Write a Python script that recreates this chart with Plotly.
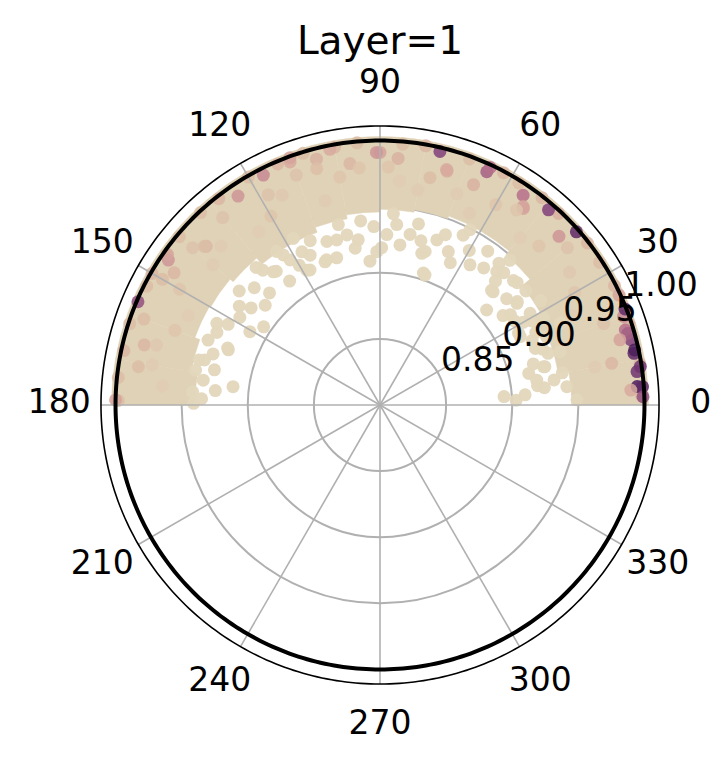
import numpy as np
import plotly.graph_objects as go

# axes
theta_ticks = [0, 30, 60, 90, 120, 150, 180, 210, 240, 270, 300, 330]
theta_label_r = 1.0425
r_ticks = [0.85, 0.90, 0.95, 1.00]
r_tick_text = ["0.85", "0.90", "0.95", "1.00"]
r_min, r_frame = 0.80, 1.011
r_range = [0.80, 1.0556]  # extra room outside the frame for the angle labels

# dense core of the cloud, one wedge per 10 degrees
band_theta = [5, 15, 25, 35, 45, 55, 65, 75, 85, 95, 105, 115, 125, 135, 145, 155, 165, 175]
band_inner = [0.945, 0.937, 0.934, 0.940, 0.948, 0.952, 0.952, 0.950, 0.948,
              0.946, 0.943, 0.939, 0.939, 0.945, 0.948, 0.949, 0.945, 0.940]
band_outer = 1.003

# loose points on the inner edge of the cloud
fringe_theta = [104.7, 97.5, 111, 106.4, 94, 117.4, 89.4, 82.9, 80, 73.6, 71.8, 66, 63.7,
                57.3, 52.9, 48.8, 63.9, 101, 117.5, 122.8, 117, 128.7, 84.7, 87.7, 91.2, 71,
                110.2, 126.1, 118.5, 146.1, 150.6, 172.9, 160, 166, 153.4, 144.9, 134.6,
                121.8, 127.8, 172, 179.5, 178, 159.5, 159.3, 169.3, 165.6,
                3.9, 2, 41.7, 45.8, 36.6, 34.7, 31.4, 13.1, 8.2, 16.5, 17.1, 5.6, 1.5, 41.7,
                46.9, 24.4, 22.3, 45, 70.9, 74.6, 27.4, 62.8, 48.1, 13.2,
                25, 28, 33, 38, 20, 10, 12, 7, 30, 36,
                92, 96, 99, 103, 108, 113, 115, 120, 124, 131, 86, 78, 76, 69, 60, 55,
                132, 137, 141, 148, 152, 156, 163, 175, 176, 168, 139, 143,
                4, 6, 9, 15, 19, 23, 26, 29, 32, 37, 40, 43, 47, 50]
fringe_r = [0.929, 0.926, 0.916, 0.916, 0.909, 0.915, 0.919, 0.922, 0.931, 0.921, 0.905, 0.927, 0.920,
            0.926, 0.930, 0.934, 0.943, 0.931, 0.942, 0.935, 0.930, 0.929, 0.937, 0.929, 0.916, 0.932,
            0.917, 0.916, 0.916, 0.906, 0.913, 0.912, 0.922, 0.941, 0.938, 0.930, 0.919,
            0.929, 0.928, 0.935, 0.941, 0.935, 0.923, 0.939, 0.942, 0.937,
            0.894, 0.903, 0.908, 0.921, 0.929, 0.920, 0.933, 0.928, 0.933, 0.942, 0.933, 0.942, 0.949, 0.939,
            0.937, 0.950, 0.936, 0.921, 0.904, 0.919, 0.918, 0.949, 0.947, 0.927,
            0.930, 0.940, 0.945, 0.940, 0.925, 0.940, 0.915, 0.920, 0.925, 0.915,
            0.935, 0.940, 0.920, 0.940, 0.930, 0.935, 0.925, 0.922, 0.940, 0.935, 0.945, 0.940, 0.928, 0.938, 0.935, 0.942,
            0.940, 0.930, 0.937, 0.925, 0.930, 0.935, 0.932, 0.925, 0.942, 0.928, 0.915, 0.922,
            0.910, 0.925, 0.920, 0.920, 0.930, 0.925, 0.918, 0.931, 0.920, 0.930, 0.925, 0.938, 0.928, 0.940]

# coloured points inside the band and along the rim
hot_theta = [4.1, 7.4, 11.5, 14.6, 17, 41.4, 49.2, 43.3, 55.7, 65.4, 76.7, 53.9, 74, 90, 20, 24.7,
             21.4, 12.2, 8.4, 4, 1.8, 16.1, 15.2, 10.2, 3.4,
             156.9, 145.6, 165.7, 171, 178.9, 137.6, 147.3,
             116.9, 124.2, 110.3, 90.8, 104.5, 101.1, 137.9, 144.7,
             85.8, 65.1, 74.2, 67, 54.2, 110, 97.1, 77.6,
             100, 120, 135, 60, 30, 160, 170, 80, 45, 110, 150, 20, 95, 130, 70,
             10, 25, 35, 50, 65, 85, 105, 115, 125, 140, 155, 165, 175,
             55, 40, 88, 140, 160, 118, 150, 105]
hot_r = [0.995, 0.996, 0.996, 0.996, 0.994, 0.998, 0.995, 0.986, 0.992, 0.994, 0.997, 0.984, 0.984, 0.991, 0.996, 0.999,
         0.999, 0.997, 0.999, 0.999, 0.999, 0.995, 0.988, 0.978, 0.990,
         0.999, 0.994, 0.984, 0.985, 1.000, 0.978, 0.985,
         0.995, 0.991, 0.996, 0.991, 0.992, 0.997, 0.979, 0.997,
         0.987, 0.998, 0.985, 0.981, 0.985, 0.999, 0.984, 0.976,
         0.975, 0.965, 0.970, 0.975, 0.970, 0.965, 0.975, 0.965, 0.970, 0.985, 0.975, 0.980, 0.980, 0.985, 0.970,
         0.965, 0.960, 0.975, 0.965, 0.960, 0.970, 0.960, 0.975, 0.960, 0.965, 0.960, 0.975, 0.965,
         0.980, 0.985, 0.980, 0.985, 0.990, 0.980, 0.990, 0.985]
hot_c = [1.0, 0.9, 0.95, 0.85, 0.7, 0.95, 0.85, 0.55, 0.7, 0.75, 0.85, 0.5, 0.45, 0.5, 0.6, 0.5,
         0.95, 1.0, 0.9, 0.95, 0.8, 0.75, 0.5, 0.35, 0.45,
         0.8, 0.55, 0.35, 0.3, 0.5, 0.35, 0.35,
         0.6, 0.55, 0.45, 0.55, 0.4, 0.45, 0.3, 0.5,
         0.4, 0.7, 0.45, 0.4, 0.5, 0.5, 0.35, 0.3,
         0.2, 0.2, 0.15, 0.2, 0.2, 0.2, 0.15, 0.15, 0.2, 0.25, 0.2, 0.25, 0.2, 0.25, 0.15,
         0.15, 0.12, 0.18, 0.12, 0.15, 0.12, 0.15, 0.18, 0.12, 0.15, 0.12, 0.18, 0.12,
         0.22, 0.25, 0.22, 0.25, 0.3, 0.25, 0.3, 0.28]

rim_theta = [2, 9, 18, 27, 33, 38, 47, 52, 58, 62, 70, 80, 85, 95, 100, 107, 113, 120, 128,
             133, 140, 150, 153, 162, 168, 174, 179]
rim_r = [0.998, 0.999, 0.998, 0.999, 0.998, 0.999, 0.998, 0.999, 0.998, 0.999, 0.998, 0.999, 0.998,
         0.999, 0.998, 0.999, 0.998, 0.999, 0.998, 0.999, 0.998, 0.999, 0.998, 0.999, 0.998, 0.999, 0.998]
rim_c = [0.4, 0.35, 0.4, 0.35, 0.3, 0.35, 0.4, 0.35, 0.3, 0.35, 0.3, 0.35, 0.3,
         0.3, 0.35, 0.3, 0.35, 0.3, 0.35, 0.3, 0.3, 0.35, 0.3, 0.3, 0.35, 0.3, 0.3]

cscale = [[0.0, "#e3d7bc"], [0.3, "#dbbea6"], [0.5, "#d5a39b"],
          [0.7, "#b5708a"], [0.85, "#80407a"], [1.0, "#4b1d5c"]]
font = "DejaVu Sans"
grid = "#b0b0b0"

fig = go.Figure()

fig.add_trace(go.Barpolar(
    theta=band_theta,
    base=band_inner,
    r=[band_outer - b for b in band_inner],
    width=[10] * len(band_theta),
    marker=dict(color="#e0d2b6", line=dict(color="#e0d2b6", width=0.5)),
    hoverinfo="skip",
))

fig.add_trace(go.Scatterpolar(
    theta=fringe_theta, r=fringe_r, mode="markers",
    marker=dict(size=13, color="#e3d7bc", opacity=0.95),
    hoverinfo="skip",
))

fig.add_trace(go.Scatterpolar(
    theta=rim_theta + hot_theta, r=rim_r + hot_r, mode="markers",
    marker=dict(size=13, color=rim_c + hot_c, colorscale=cscale, cmin=0, cmax=1, opacity=0.85),
    hoverinfo="skip",
))

# angular grid spokes, stopping at the frame
spoke_r, spoke_t = [], []
for t in theta_ticks:
    spoke_r += [r_min, r_frame, None]
    spoke_t += [t, t, None]
fig.add_trace(go.Scatterpolar(
    theta=spoke_t, r=spoke_r, mode="lines",
    line=dict(color=grid, width=1.6), hoverinfo="skip",
))

# reference circle at r = 1 and the outer frame
circle_theta = np.linspace(0, 360, 361)
fig.add_trace(go.Scatterpolar(
    theta=circle_theta, r=[1.0] * len(circle_theta), mode="lines",
    line=dict(color="black", width=4), hoverinfo="skip",
))
fig.add_trace(go.Scatterpolar(
    theta=circle_theta, r=[r_frame] * len(circle_theta), mode="lines",
    line=dict(color="black", width=1.6), hoverinfo="skip",
))

# radial tick labels
fig.add_trace(go.Scatterpolar(
    theta=[22.5] * len(r_ticks), r=r_ticks, mode="text", text=r_tick_text,
    textposition="top right", textfont=dict(family=font, size=33, color="black"),
    cliponaxis=False, hoverinfo="skip",
))

# angular tick labels, centred at a fixed radius outside the frame
fig.add_trace(go.Scatterpolar(
    theta=theta_ticks, r=[theta_label_r] * len(theta_ticks), mode="text",
    text=[str(t) for t in theta_ticks], textposition="middle center",
    textfont=dict(family=font, size=33, color="black"),
    cliponaxis=False, hoverinfo="skip",
))

fig.update_layout(
    width=718, height=770,
    margin=dict(l=42, r=0, t=67, b=27),
    paper_bgcolor="white",
    showlegend=False,
    font=dict(family=font, color="black"),
    title=dict(text="Layer=1", x=0.5, xref="paper", y=1 - 40 / 770, yref="container",
               yanchor="middle", xanchor="center", font=dict(family=font, size=39, color="black")),
    polar=dict(
        bgcolor="rgba(0,0,0,0)",
        bargap=0,
        radialaxis=dict(range=r_range, tickvals=r_ticks[:-1], showticklabels=False, ticks="",
                        showline=False, gridcolor=grid, gridwidth=1.6, angle=22.5),
        angularaxis=dict(rotation=0, direction="counterclockwise", showticklabels=False,
                         ticks="", showline=False, showgrid=False),
    ),
)

# drop the default page margin so the figure sits at the top-left corner
fig.write_html("out.html", config={"displayModeBar": False},
               post_script="document.body.style.margin = '0';")
